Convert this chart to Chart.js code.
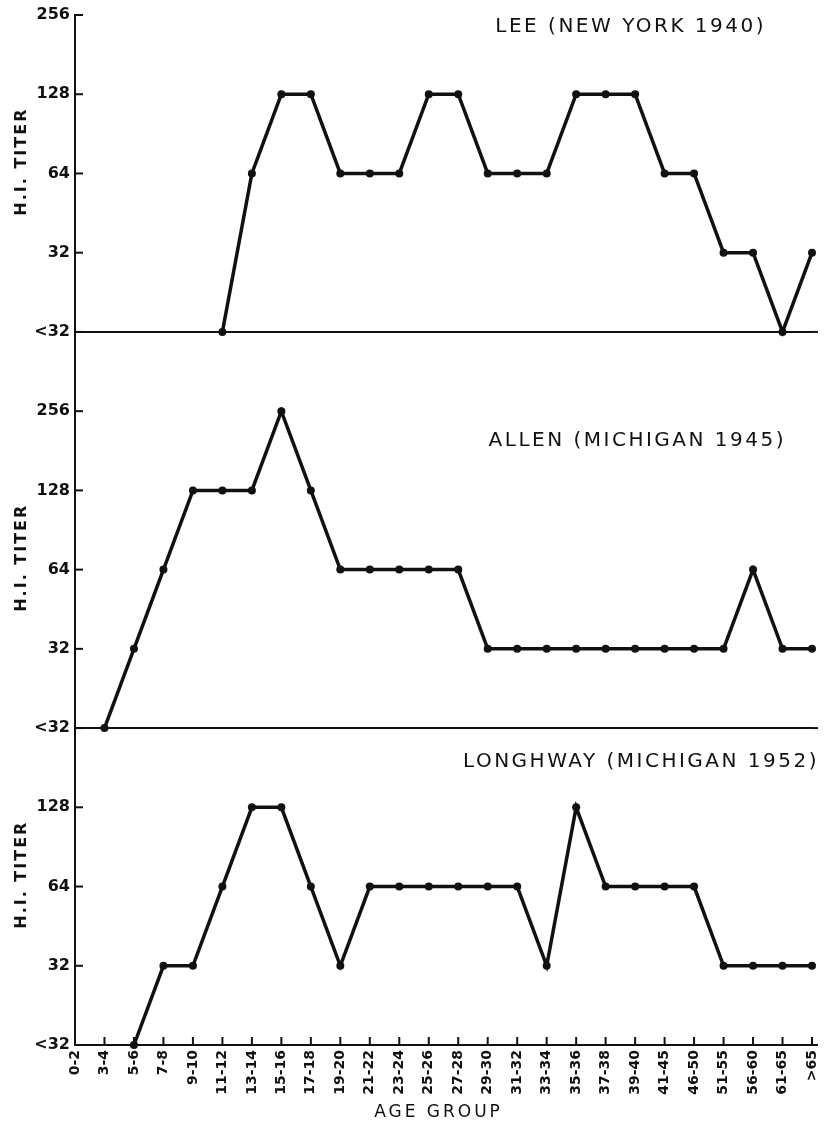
<!DOCTYPE html>
<html>
<head>
<meta charset="utf-8">
<script src="https://cdn.jsdelivr.net/npm/chart.js@4/dist/chart.umd.min.js"></script>
<style>
  html, body { margin: 0; padding: 0; background: #ffffff; }
  #wrap { width: 825px; height: 1125px; position: relative; }
</style>
</head>
<body>
<div id="wrap"><canvas id="c" width="825" height="1125"></canvas></div>
<script>
// ---- data ----
const AGE_GROUPS = ['0-2','3-4','5-6','7-8','9-10','11-12','13-14','15-16','17-18','19-20','21-22','23-24','25-26','27-28','29-30','31-32','33-34','35-36','37-38','39-40','41-45','46-50','51-55','56-60','61-65','>65'];
const TITER_LEVELS = ['<32','32','64','128','256'];
const Y_TICKS_LEE = ['<32','32','64','128','256'];
const Y_TICKS_ALLEN = ['<32','32','64','128','256',''];
const Y_TICKS_LONGHWAY = ['<32','32','64','128',''];
const LEE = [null,null,null,null,null,'<32','64','128','128','64','64','64','128','128','64','64','64','128','128','128','64','64','32','32','<32','32'];
const ALLEN = [null,'<32','32','64','128','128','128','256','128','64','64','64','64','64','32','32','32','32','32','32','32','32','32','64','32','32'];
const LONGHWAY = [null,null,'<32','32','32','64','128','128','64','32','64','64','64','64','64','64','32','128','64','64','64','64','32','32','32','32'];
const PANEL_TITLES = ['LEE (NEW YORK 1940)','ALLEN (MICHIGAN 1945)','LONGHWAY (MICHIGAN 1952)'];
const Y_TITLE = 'H.I. TITER';
const X_TITLE = 'AGE GROUP';

const toLevel = arr => arr.map(v => v === null ? null : TITER_LEVELS.indexOf(v));

const INK = '#111111';
const TICK_FONT = { family: 'DejaVu Sans', size: 16, weight: 'bold' };

function yAxis(ticksArr, weight) {
  return {
    type: 'linear',
    position: 'left',
    stack: 'panels',
    stackWeight: weight,
    min: 0,
    max: ticksArr.length - 1,
    afterFit: s => { s.width = 75; },
    ticks: {
      stepSize: 1,
      color: INK,
      font: TICK_FONT,
      padding: 5,
      callback: v => ticksArr[v] !== undefined ? ticksArr[v] : ''
    },
    grid: {
      drawTicks: false,
      color: ctx => (ctx.tick && ctx.tick.value === 0) ? INK : 'rgba(0,0,0,0)',
      lineWidth: 2
    },
    border: { display: true, color: INK, width: 2 }
  };
}

const layoutCfg = {
  titles: [
    { axis: 'yLee', level: 3.85, xFrac: 0.754 },
    { axis: 'yAllen', level: 3.62, xFrac: 0.763 },
    { axis: 'yLong', level: 3.58, xFrac: 0.768 }
  ],
  yTitleLevel: 2.15
};

const decorPlugin = {
  id: 'decor',
  afterDraw(chart) {
    const ctx = chart.ctx;
    const ca = chart.chartArea;
    ctx.save();
    ctx.strokeStyle = INK;
    ctx.lineWidth = 2;
    // inward y ticks
    [['yLee', Y_TICKS_LEE], ['yAllen', Y_TICKS_ALLEN], ['yLong', Y_TICKS_LONGHWAY]].forEach(([id, arr]) => {
      const s = chart.scales[id];
      arr.forEach((lab, i) => {
        if (!lab) return;
        const y = s.getPixelForValue(i);
        ctx.beginPath(); ctx.moveTo(s.right, y); ctx.lineTo(s.right + 8, y); ctx.stroke();
      });
      // extend the baseline slightly past the last category
      const y0 = s.getPixelForValue(0);
      ctx.beginPath(); ctx.moveTo(ca.right, y0); ctx.lineTo(ca.right + 6, y0); ctx.stroke();
    });
    // inward x ticks
    const xs = chart.scales.x;
    AGE_GROUPS.forEach((g, i) => {
      const x = xs.getPixelForValue(i);
      ctx.beginPath(); ctx.moveTo(x, ca.bottom); ctx.lineTo(x, ca.bottom - 8); ctx.stroke();
    });
    // panel titles
    ctx.fillStyle = INK;
    ctx.textAlign = 'center';
    ctx.textBaseline = 'middle';
    ctx.font = '20px "DejaVu Sans"';
    ctx.letterSpacing = '2.5px';
    layoutCfg.titles.forEach((t, i) => {
      const s = chart.scales[t.axis];
      ctx.fillText(PANEL_TITLES[i], ca.left + t.xFrac * (ca.right - ca.left), s.getPixelForValue(t.level));
    });
    // y titles
    ctx.font = 'bold 16px "DejaVu Sans"';
    ctx.letterSpacing = '2px';
    ['yLee', 'yAllen', 'yLong'].forEach(id => {
      const s = chart.scales[id];
      ctx.save();
      ctx.translate(22, s.getPixelForValue(layoutCfg.yTitleLevel));
      ctx.rotate(-Math.PI / 2);
      ctx.fillText(Y_TITLE, 0, 0);
      ctx.restore();
    });
    // x title
    ctx.font = '17px "DejaVu Sans"';
    ctx.letterSpacing = '3px';
    ctx.fillText(X_TITLE, (ca.left + ca.right) / 2 - 5, 1113);
    ctx.restore();
  }
};

const dsStyle = {
  borderColor: INK,
  backgroundColor: INK,
  borderWidth: 3.5,
  pointRadius: 4,
  pointHoverRadius: 4,
  pointBackgroundColor: INK,
  pointBorderColor: INK,
  pointBorderWidth: 0,
  tension: 0,
  clip: false
};

new Chart(document.getElementById('c'), {
  type: 'line',
  data: {
    labels: AGE_GROUPS,
    datasets: [
      Object.assign({ label: PANEL_TITLES[0], data: toLevel(LEE), yAxisID: 'yLee' }, dsStyle),
      Object.assign({ label: PANEL_TITLES[1], data: toLevel(ALLEN), yAxisID: 'yAllen' }, dsStyle),
      Object.assign({ label: PANEL_TITLES[2], data: toLevel(LONGHWAY), yAxisID: 'yLong' }, dsStyle)
    ]
  },
  options: {
    responsive: false,
    animation: false,
    events: [],
    layout: { padding: { top: 15, right: 13, left: 0, bottom: 0 } },
    plugins: { legend: { display: false }, tooltip: { enabled: false }, title: { display: false } },
    scales: {
      x: {
        type: 'category',
        offset: false,
        afterFit: s => { s.height = 80; s.paddingLeft = 0; s.paddingRight = 0; },
        ticks: {
          autoSkip: false,
          minRotation: 90,
          maxRotation: 90,
          color: INK,
          font: { family: 'DejaVu Sans', size: 14, weight: 'bold' },
          padding: 5
        },
        grid: { display: false, drawTicks: false },
        border: { display: true, color: INK, width: 2 }
      },
      yLong: yAxis(Y_TICKS_LONGHWAY, 4),
      yAllen: yAxis(Y_TICKS_ALLEN, 5),
      yLee: yAxis(Y_TICKS_LEE, 4)
    }
  },
  plugins: [decorPlugin]
});
</script>
</body>
</html>
